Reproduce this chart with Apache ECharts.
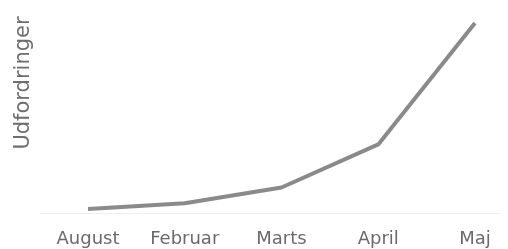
<!DOCTYPE html>
<html>
<head>
<meta charset="utf-8">
<script src="https://cdn.jsdelivr.net/npm/echarts@6/dist/echarts.min.js"></script>
<style>
  html, body { margin: 0; padding: 0; background: #fff; }
  #chart { width: 508px; height: 249px; }
</style>
</head>
<body>
<div id="chart"></div>
<script>
var months = ['August', 'Februar', 'Marts', 'April', 'Maj'];
var challenges = [2, 5, 13, 35, 97];
var yName = 'Udfordringer';

var chart = echarts.init(document.getElementById('chart'));
chart.setOption({
    animation: false,
    grid: [
        { left: 88, right: 33, top: 17, bottom: 36 },
        // wider grid only for the faint baseline
        { left: 40, right: 8, top: 17, bottom: 36 }
    ],
    graphic: [{
        type: 'text',
        x: 24, y: 83,
        rotation: Math.PI / 2,
        style: {
            text: yName,
            fill: '#6e6e6e',
            font: '21px "DejaVu Sans"',
            textAlign: 'center',
            textVerticalAlign: 'middle'
        }
    }],
    xAxis: [{
        type: 'category',
        gridIndex: 0,
        data: months,
        boundaryGap: false,
        axisLine: { show: false },
        axisTick: { show: false },
        axisLabel: { color: '#6a6a6a', fontSize: 18, fontFamily: 'DejaVu Sans', margin: 17 }
    }, {
        type: 'category',
        gridIndex: 1,
        data: months,
        axisLine: { lineStyle: { color: '#eeeeee', width: 1 } },
        axisTick: { show: false },
        axisLabel: { show: false }
    }],
    yAxis: [{
        type: 'value',
        gridIndex: 0,
        min: 0, max: 100,
        axisLine: { show: false },
        axisTick: { show: false },
        axisLabel: { show: false },
        splitLine: { show: false }
    }, {
        type: 'value',
        gridIndex: 1,
        show: false
    }],
    series: [{
        type: 'line',
        data: challenges,
        showSymbol: false,
        z: 3,
        lineStyle: { color: '#8a8a8a', width: 4 }
    }]
});
</script>
</body>
</html>
